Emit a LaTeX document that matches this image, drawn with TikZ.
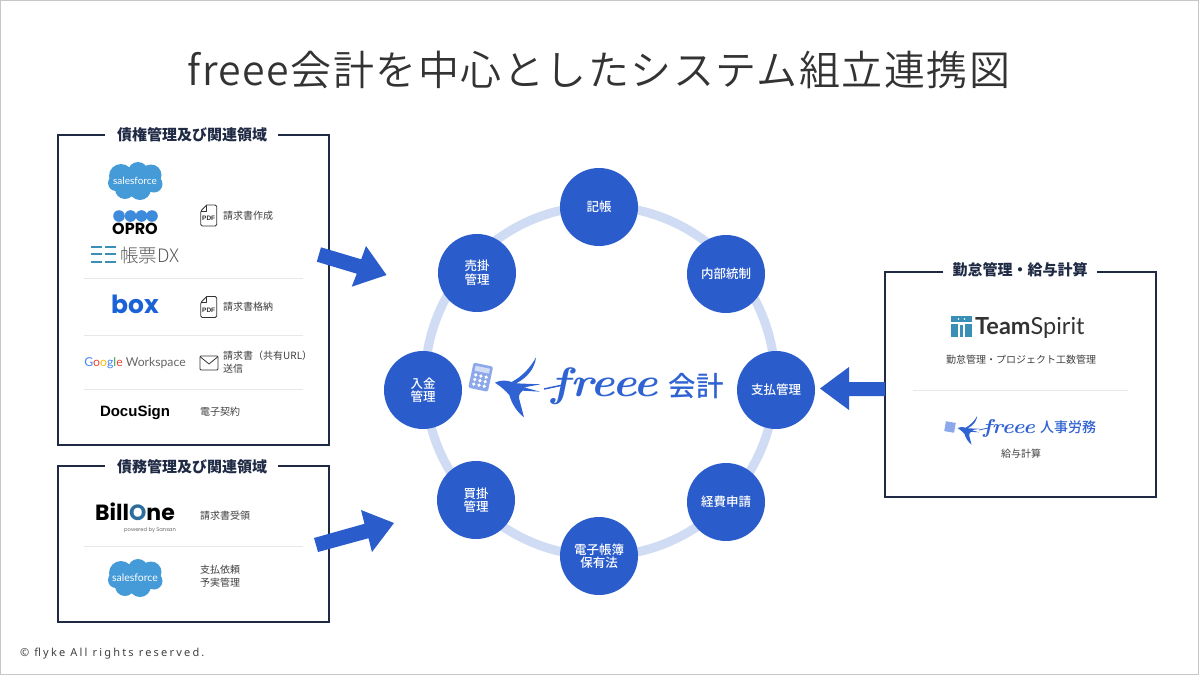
\documentclass[tikz,border=0pt]{standalone}
\usepackage{fontspec}
\newfontfamily\jpf{Noto Sans CJK JP}
\newfontfamily\jpm{Noto Sans CJK JP Medium}
\newfontfamily\jpthin{Noto Sans CJK JP Light}
\newfontfamily\jplight[LetterSpace=3.6]{Noto Sans CJK JP DemiLight}
\newfontfamily\popf{Poppins}
\newfontfamily\latof{Lato}
\newfontfamily\helvf{Liberation Sans}
\newfontfamily\footf[LetterSpace=20]{Noto Sans}
\newcommand{\fsz}[1]{\fontsize{#1}{#1}\selectfont}
\definecolor{navyc}{HTML}{1F2A44}
\definecolor{bluec}{HTML}{2A5CCB}
\definecolor{ringc}{HTML}{D0DCF3}
\definecolor{sepc}{HTML}{E8E8E8}
\definecolor{txtc}{HTML}{404040}
\definecolor{cloudc}{HTML}{459AD8}
\definecolor{calcc}{HTML}{8CA8EA}
\definecolor{logoc}{HTML}{2F62D2}
\definecolor{tealc}{HTML}{3A8FB7}
\definecolor{boxc}{HTML}{1A62D6}
\tikzset{
  hub/.style={circle,fill=bluec,minimum size=78pt,inner sep=0pt,text=white,align=center,font=\jpm\fsz{12.5}},
  frameline/.style={draw=navyc,line width=2.6pt},
  sepline/.style={draw=sepc,line width=0.8pt},
  sectitle/.style={text=navyc,inner sep=0pt,font=\jpf\bfseries\fsz{15}},
  lab/.style={text=txtc,inner sep=0pt,anchor=west,align=left,font=\jpf\fsz{10}},
  clab/.style={text=txtc,inner sep=0pt,font=\jpf\fsz{10}},
  blockarrow/.style={fill=bluec,draw=none},
  iconline/.style={draw=black!80,line width=0.8pt,line join=round},
}
\newcommand{\sfcloud}[3]{%
  \begin{scope}[shift={(#1,#2)}]
  \fill[cloudc] (-14,-5) circle (12) (3,-9) circle (10) (16,-6) circle (10.5) (19,3) circle (8.5) (5,8) circle (11) (-10,8) circle (10) (-19,2) circle (8) (0,0) circle (12);
  \end{scope}
  \node[text=white,inner sep=0pt,font=\latof\fsz{#3}] at (#1,#2) {salesforce};}
\newcommand{\pdficon}[2]{%
  \begin{scope}[shift={(#1,#2)}]
  \draw[iconline,rounded corners=1.5pt] (-2,-10.5) -- (8,-10.5) -- (8,10.5) -- (-8,10.5) -- (-8,-4.5) [sharp corners] -- (-2,-10.5) -- cycle;
  \draw[iconline] (-8,-4.5) -- (-2,-4.5) -- (-2,-10.5);
  \node[inner sep=0pt,text=black!80,font=\helvf\bfseries\fsz{6.5}] at (0,3) {PDF};
  \end{scope}}
% bird in 3x zoom coordinates, head near (135,128)
\newcommand{\birdpath}{%
  (135,128) .. controls (150,120) and (170,120) .. (185,126)
  .. controls (215,110) and (240,85) .. (258,52)
  .. controls (255,85) and (230,115) .. (198,130)
  -- (272,133) -- (222,142) -- (270,155) -- (218,152)
  .. controls (208,160) and (205,168) .. (208,178)
  .. controls (212,195) and (218,215) .. (222,232)
  .. controls (200,215) and (185,190) .. (178,165)
  .. controls (165,150) and (150,138) .. (135,128) -- cycle}
\begin{document}
\begin{tikzpicture}[x=1pt,y=-1pt]
\useasboundingbox (0,0) rectangle (1199,675);
\fill[white] (0,0) rectangle (1199,675);
\draw[draw=black!22,line width=1.5pt] (0.5,0.5) rectangle (1198.5,674.5);
\node[text=black!80,inner sep=0pt,font=\jplight\fsz{41}] (title) at (599,70) {freee会計を中心としたシステム組立連携図};

% ring
\draw[draw=ringc,line width=9pt] (600,381) circle (175);
\node[hub] (n1) at (599,207) {記帳};
\node[hub] (n2) at (726,274) {内部統制};
\node[hub] (n3) at (776,390) {支払管理};
\node[hub] (n4) at (726,502) {経費申請};
\node[hub] (n5) at (599,556) {電子帳簿\\[1pt]保有法};
\node[hub] (n6) at (476,500) {買掛\\[1pt]管理};
\node[hub] (n7) at (423,390) {入金\\[1pt]管理};
\node[hub] (n8) at (477,273) {売掛\\[1pt]管理};

% centre logo
\begin{scope}[shift={(450,340)},x=0.3333pt,y=-0.3333pt]
  \begin{scope}[rotate around={-12:(92,112)}]
    \fill[calcc,rounded corners=2pt] (62,73) rectangle (122,150);
    \fill[white!60!calcc] (70,81) rectangle (114,96);
    \foreach \i in {0,1,2}\foreach \j in {0,1,2}{\fill[white] (76+\i*16,108+\j*14) circle (5.5);}
  \end{scope}
  \fill[logoc] \birdpath;
\end{scope}
\draw[logoc,line width=1.5pt] (544,389) -- (563,385);
\node[text=logoc,inner sep=0pt,anchor=base,font=\rmfamily\bfseries\itshape\fsz{41},xscale=1.12] (fr) at (605,396) {freee};
\node[text=logoc,inner sep=0pt,font=\jpm\fsz{27.5}] (kaikei) at (696,386) {会計};

% left box 1
\draw[frameline] (105,135) -- (58,135) -- (58,445) -- (329,445) -- (329,135) -- (278,135);
\node[sectitle] (s1) at (192,135) {債権管理及び関連領域};
\sfcloud{135}{181}{10}
\foreach \x in {119,130.5,141.5,152}{\fill[cloudc!90!blue] (\x,216) circle (5.8);}
\node[inner sep=0pt,font=\popf\bfseries\fsz{16}] (opro) at (135,229) {OPRO};
\foreach \yy in {247,254,262}{\fill[tealc] (91,\yy-1) rectangle (102,\yy+1); \fill[tealc] (105,\yy-1) rectangle (116,\yy+1);}
\node[inner sep=0pt,text=black!65,font=\jpthin\fsz{18.5}] (dx) at (150,255) {帳票DX};
\pdficon{208.7}{215.5}
\node[lab] (l1) at (223,216) {請求書作成};
\draw[sepline] (84,278) -- (303,278);
\node[inner sep=0pt,text=boxc,font=\popf\bfseries\fsz{25}] (box) at (135,304) {box};
\pdficon{208.7}{307}
\node[lab] (l2) at (223,307) {請求書格納};
\draw[sepline] (84,335) -- (303,335);
\node[inner sep=0pt,font=\latof\fsz{12.2}] (gw) at (135,363) {\textcolor[HTML]{4285F4}{G}\textcolor[HTML]{EA4335}{o}\textcolor[HTML]{FBBC05}{o}\textcolor[HTML]{4285F4}{g}\textcolor[HTML]{34A853}{l}\textcolor[HTML]{EA4335}{e} \textcolor{black!60}{Workspace}};
\draw[iconline,rounded corners=1pt] (200,356) rectangle (218,370);
\draw[iconline] (200.5,357) -- (209,364) -- (217.5,357);
\node[lab] (l3) at (223,362.5) {請求書（共有URL）\\[3pt]送信};
\draw[sepline] (84,389) -- (303,389);
\node[inner sep=0pt,text=black,font=\helvf\bfseries\fsz{15}] (ds) at (135,413) {DocuSign};
\node[lab] (l4) at (200,412) {電子契約};

% left box 2
\draw[frameline] (105,466) -- (58,466) -- (58,622) -- (329,622) -- (329,466) -- (278,466);
\node[sectitle] (s2) at (192,467) {債務管理及び関連領域};
\node[inner sep=0pt,font=\popf\bfseries\fsz{22}] (bo) at (135,512) {Bill\textcolor[HTML]{2D6C9C}{O}ne};
\node[inner sep=0pt,text=black!60,font=\popf\fsz{5.2}] (bop) at (150,530) {powered by Sansan};
\node[lab] (l5) at (200,516) {請求書受領};
\draw[sepline] (84,546) -- (303,546);
\sfcloud{135}{578}{10.5}
\node[lab] (l6) at (200,576) {支払依頼\\[3pt]予実管理};

% right box
\draw[frameline] (943,272) -- (885,272) -- (885,497) -- (1156,497) -- (1156,272) -- (1097,272);
\node[sectitle] (s3) at (1020,270) {勤怠管理・給与計算};
\fill[tealc] (951,316) rectangle (972,322);
\fill[tealc] (951,323.5) rectangle (958,337);
\fill[tealc] (965,323.5) rectangle (972,337);
\fill[tealc] (960,325) rectangle (963,337);
\fill[white] (958.5,319) circle (0.8) (964.5,319) circle (0.8);
\node[inner sep=0pt,anchor=west,text=black!80,font=\latof\fsz{23.5}] (ts) at (975,328) {\textbf{Team}Spirit};
\node[clab] (l7) at (1021,360) {勤怠管理・プロジェクト工数管理};
\draw[sepline] (913,390) -- (1128,390);
\begin{scope}[rotate around={-10:(950,427)}]
  \fill[calcc] (945,422) rectangle (955,432);
\end{scope}
\begin{scope}[shift={(936,407.5)},x=0.16pt,y=-0.16pt]
  \fill[logoc] \birdpath;
\end{scope}
\draw[logoc,line width=0.8pt] (979,430) -- (988,428);
\node[text=logoc,inner sep=0pt,anchor=base,font=\rmfamily\bfseries\itshape\fsz{20},xscale=1.12] (fr2) at (1009,433) {freee};
\node[text=logoc,inner sep=0pt,font=\jpm\fsz{14}] (jinji) at (1068,427) {人事労務};
\node[clab] (l8) at (1021,454) {給与計算};

% block arrows
\fill[blockarrow] (321,247.3) -- (361.2,259.3) -- (366,246) -- (386.5,275) -- (351.7,286.7) -- (356.8,273.7) -- (316.8,261.7) -- cycle;
\fill[blockarrow] (314,538) -- (364.5,523.8) -- (361,510) -- (394,523) -- (372,552) -- (368.5,538.2) -- (318,552) -- cycle;
\fill[blockarrow] (885,382) -- (849,382) -- (849,367) -- (820,388.5) -- (849,410) -- (849,396) -- (885,396) -- cycle;

\node[inner sep=0pt,anchor=west,text=txtc,font=\footf\fsz{11}] (foot) at (20,654) {© flyke All rights reserved.};
\end{tikzpicture}
\end{document}
